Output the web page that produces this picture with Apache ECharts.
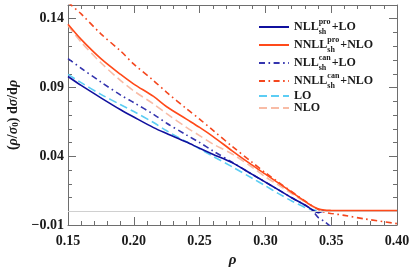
<!DOCTYPE html>
<html><head><meta charset="utf-8">
<script src="https://cdn.jsdelivr.net/npm/echarts@6/dist/echarts.min.js"></script>
<style>html,body{margin:0;padding:0;background:#fff}#c{width:416px;height:271px}</style>
</head><body><div id="c"></div>
<script>
// rho grid
var rho = [0.15, 0.16, 0.175, 0.19, 0.20, 0.215, 0.225, 0.24, 0.25, 0.26, 0.275, 0.29, 0.30, 0.31, 0.32, 0.33, 0.335, 0.34, 0.345, 0.35, 0.36, 0.375, 0.40];
var nllPro   = [0.098, 0.0915, 0.0825, 0.0738, 0.0685, 0.0608, 0.0565, 0.0503, 0.0458, 0.0415, 0.0352, 0.0268, 0.0212, 0.0155, 0.0098, 0.0045, 0.0015, -0.001, 0.0003, 0.0003, 0.0003, 0.0003, 0.0003];
var nnllPro  = [0.136, 0.125, 0.111, 0.0995, 0.0925, 0.0835, 0.076, 0.067, 0.061, 0.0545, 0.0438, 0.0335, 0.027, 0.0205, 0.0138, 0.0072, 0.0042, 0.0018, 0.0008, 0.0006, 0.0005, 0.0005, 0.0005];
var nllCan   = [0.111, 0.104, 0.094, 0.0845, 0.079, 0.0705, 0.064, 0.0555, 0.050, 0.044, 0.0355, 0.0268, 0.0212, 0.0155, 0.0098, 0.0045, 0.0015, -0.0045, -0.0075, -0.0115, null, null, null];
var nnllCan  = [0.152, 0.1435, 0.129, 0.1165, 0.107, 0.095, 0.0865, 0.0745, 0.067, 0.059, 0.047, 0.0355, 0.028, 0.021, 0.0142, 0.0075, 0.0042, 0.0015, -0.0008, -0.0016, -0.003, -0.0055, -0.009];
var lo       = [0.0995, 0.0935, 0.085, 0.0775, 0.0725, 0.0645, 0.0585, 0.0505, 0.0455, 0.040, 0.0322, 0.024, 0.0185, 0.0128, 0.0075, 0.0028, 0.0012, 0.0003, 0.0, 0.0, 0.0, 0.0, 0.0];
var nlo      = [0.135, 0.123, 0.108, 0.095, 0.0875, 0.078, 0.071, 0.061, 0.055, 0.049, 0.0415, 0.032, 0.025, 0.019, 0.0128, 0.0068, 0.0038, 0.0012, 0.0003, 0.0003, 0.0003, 0.0003, 0.0003];
var seriesNames = ['NLLpro', 'NNLLpro', 'NLLcan', 'NNLLcan', 'LO', 'NLO'];
var legendLabels = {
  NLLpro: '{n|NLL}{sp|pro}{sb|sh}{n|+LO}',
  NNLLpro: '{n|NNLL}{sp|pro}{sb|sh}{n|+NLO}',
  NLLcan: '{n|NLL}{sp|can}{sb|sh}{n|+LO}',
  NNLLcan: '{n|NNLL}{sp|can}{sb|sh}{n|+NLO}',
  LO: '{n|LO}',
  NLO: '{n|NLO}'
};

function pairs(ys) { return rho.map(function (x, i) { return [x, ys[i]]; }); }
var serif = 'Liberation Serif';
var frame = '#6e6e6e';

function mk(name, ys, color, type, width, z) {
  return {
    name: name, type: 'line', data: pairs(ys), symbol: 'none', smooth: 0.3,
    xAxisIndex: 0, yAxisIndex: 0, z: z,
    lineStyle: { color: color, width: width, type: type },
    itemStyle: { color: color }
  };
}
var dashDot = [6, 3.5, 1.6, 3.5];
var dashed = [8, 4];
var series = [
  mk('LO', lo, '#5ccdf4', dashed, 1.6, 2),
  mk('NLO', nlo, '#f8bca6', dashed, 1.6, 2),
  mk('NLLcan', nllCan, '#3434ae', dashDot, 1.6, 3),
  mk('NNLLcan', nnllCan, '#f4471e', dashDot, 1.6, 3),
  mk('NLLpro', nllPro, '#10109e', 'solid', 1.6, 4),
  mk('NNLLpro', nnllPro, '#ff4a1a', 'solid', 1.6, 5)
];
series[0].markLine = {
  silent: true, symbol: 'none', label: { show: false },
  lineStyle: { color: '#d0d0d0', width: 1, type: 'solid' },
  data: [{ yAxis: 0 }]
};

function frameAxis(o) {
  o.axisLine = { show: true, onZero: false, lineStyle: { color: frame, width: 1 } };
  o.axisTick = { show: true, inside: true, length: 8, lineStyle: { color: frame, width: 1 } };
  o.minorTick = { show: true, splitNumber: 5, length: 4, lineStyle: { color: frame, width: 1 } };
  o.splitLine = { show: false };
  return o;
}

var chart = echarts.init(document.getElementById('c'));
chart.setOption({
  animation: false,
  grid: { left: 68, right: 19, top: 5, bottom: 46, outerBoundsMode: 'none' },
  xAxis: [
    frameAxis({ type: 'value', position: 'bottom', min: 0.15, max: 0.40, interval: 0.05,
      axisLabel: { margin: 9, color: '#1a1a1a', fontFamily: serif, fontWeight: 'bold', fontSize: 14,
        formatter: function (v) { return v.toFixed(2); } },
      name: 'ρ', nameLocation: 'middle', nameGap: 28,
      nameTextStyle: { fontFamily: serif, fontStyle: 'italic', fontWeight: 'bold', fontSize: 15, color: '#1a1a1a' } }),
    frameAxis({ type: 'value', position: 'top', min: 0.15, max: 0.40, interval: 0.05, axisLabel: { show: false } })
  ],
  yAxis: [
    frameAxis({ type: 'value', position: 'left', min: -0.01, max: 0.15, interval: 0.05,
      axisLabel: { margin: 4, color: '#1a1a1a', fontFamily: serif, fontWeight: 'bold', fontSize: 14, showMaxLabel: false,
        formatter: function (v) { return (v < 0 ? '\u2212' : '') + Math.abs(v).toFixed(2); } },
      name: '{u|(}{i|ρ}{u|/}{i|σ}{s|0}{u|) d}{i|σ}{u|/d}{i|ρ}', nameLocation: 'middle', nameGap: 36,
      nameTextStyle: { fontFamily: serif, fontSize: 14, color: '#1a1a1a',
        rich: {
          u: { fontFamily: serif, fontSize: 14, fontWeight: 'bold', color: '#1a1a1a' },
          i: { fontFamily: serif, fontSize: 14, fontStyle: 'italic', fontWeight: 'bold', color: '#1a1a1a' },
          s: { fontFamily: serif, fontSize: 9, fontWeight: 'bold', verticalAlign: 'bottom', lineHeight: 10, color: '#1a1a1a' }
        } } }),
    frameAxis({ type: 'value', position: 'right', min: -0.01, max: 0.15, interval: 0.05, axisLabel: { show: false } })
  ],
  legend: {
    data: seriesNames, orient: 'vertical', left: 253, top: 13, itemWidth: 30, itemHeight: 10, itemGap: 0,
    itemStyle: { opacity: 0 },
    formatter: function (n) { return legendLabels[n]; },
    textStyle: {
      fontFamily: serif, fontSize: 12, color: '#1a1a1a',
      rich: {
        n: { fontFamily: serif, fontSize: 12, fontWeight: 'bold', lineHeight: 18, color: '#1a1a1a' },
        sp: { fontFamily: serif, fontSize: 8, fontWeight: 'bold', lineHeight: 11, verticalAlign: 'top', width: 0, align: 'left', color: '#1a1a1a' },
        sb: { fontFamily: serif, fontSize: 8, fontWeight: 'bold', lineHeight: 9, verticalAlign: 'bottom', width: 13, align: 'left', color: '#1a1a1a' }
      }
    }
  },
  series: series
});
</script></body></html>
